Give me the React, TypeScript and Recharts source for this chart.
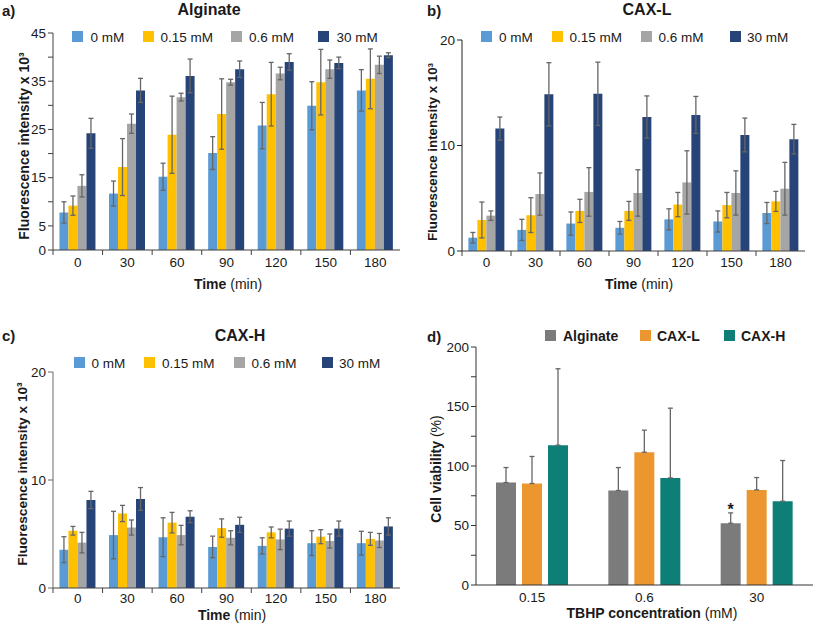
import React from 'react';
import { BarChart, Bar, XAxis, YAxis, ErrorBar, LabelList } from 'recharts';

const FONT = '"Liberation Sans", Arial, Helvetica, sans-serif';
const AXIS = '#404040';
const ERR = '#666666';
const TXT = '#1a1a1a';

// ---- shared categories ----
const timeLabels = ['0', '30', '60', '90', '120', '150', '180'];
const concLabels = ['0 mM', '0.15 mM', '0.6 mM', '30 mM'];
const concColors = ['#5B9BD5', '#FFC000', '#A5A5A5', '#264478'];

// ---- panel a: Alginate ----
const alg0 = [7.8, 11.7, 15.2, 20.1, 25.8, 29.9, 33.1];
const alg0Err = [2.2, 2.6, 2.8, 3.4, 4.8, 5.0, 4.3];
const alg015 = [9.2, 17.2, 23.9, 28.2, 32.3, 34.8, 35.5];
const alg015Err = [2.0, 5.9, 8.0, 7.3, 6.6, 6.8, 6.2];
const alg06 = [13.3, 26.2, 31.7, 34.8, 36.6, 37.5, 38.4];
const alg06Err = [2.3, 2.0, 0.8, 0.6, 1.3, 1.9, 1.8];
const alg30 = [24.2, 33.1, 36.1, 37.5, 39.0, 38.8, 40.4];
const alg30Err = [3.1, 2.5, 3.5, 1.7, 1.7, 1.2, 0.5];
const algTicks = [0, 5, 10, 15, 20, 25, 30, 35, 40, 45];
const algTickLabels = [0, 5, 15, 25, 35, 45];

// ---- panel b: CAX-L ----
const caxL0 = [1.26, 2.0, 2.6, 2.2, 3.0, 2.8, 3.6];
const caxL0Err = [0.5, 1.0, 1.1, 0.6, 1.0, 1.0, 1.0];
const caxL015 = [2.94, 3.4, 3.8, 3.8, 4.4, 4.35, 4.7];
const caxL015Err = [1.7, 1.65, 1.1, 0.9, 1.15, 1.2, 0.95];
const caxL06 = [3.35, 5.4, 5.6, 5.5, 6.5, 5.5, 5.9];
const caxL06Err = [0.45, 2.0, 2.3, 2.2, 3.0, 2.1, 2.5];
const caxL30 = [11.6, 14.85, 14.9, 12.7, 12.9, 11.0, 10.6];
const caxL30Err = [1.1, 3.0, 3.0, 2.0, 1.75, 1.6, 1.4];

// ---- panel c: CAX-H ----
const caxH0 = [3.55, 4.9, 4.7, 3.8, 3.9, 4.15, 4.15];
const caxH0Err = [1.2, 2.2, 1.8, 1.0, 0.75, 1.15, 1.1];
const caxH015 = [5.3, 6.9, 6.05, 5.55, 5.15, 4.75, 4.55];
const caxH015Err = [0.4, 0.75, 0.95, 0.85, 0.5, 0.65, 0.6];
const caxH06 = [4.2, 5.6, 4.9, 4.65, 4.5, 4.35, 4.4];
const caxH06Err = [0.95, 0.7, 0.9, 0.65, 0.95, 0.65, 0.65];
const caxH30 = [8.15, 8.25, 6.6, 5.85, 5.5, 5.5, 5.7];
const caxH30Err = [0.8, 1.05, 0.55, 0.7, 0.7, 0.7, 0.8];
const caxTicks = [0, 10, 20];

// ---- panel d: cell viability ----
const tbhpLabels = ['0.15', '0.6', '30'];
const viabSeries = ['Alginate', 'CAX-L', 'CAX-H'];
const viabColors = ['#7B7B7B', '#EC9630', '#0E7F76'];
const viabAlginate = [86.1, 79.4, 51.9];
const viabAlginateErr = [12.6, 19.3, 8.7];
const viabCaxL = [85.3, 111.6, 79.9];
const viabCaxLErr = [22.7, 18.5, 10.4];
const viabCaxH = [117.5, 90.0, 70.4];
const viabCaxHErr = [64.2, 58.6, 34.2];
const viabMarks = ['', '', '*'];
const viabTicks = [0, 25, 50, 75, 100, 125, 150, 175, 200];
const viabTickLabels = [0, 50, 100, 150, 200];

function buildTimeData(vals: number[][], errs: number[][]) {
  return timeLabels.map((t, i) => ({
    time: t,
    v0: vals[0][i], e0: errs[0][i],
    v1: vals[1][i], e1: errs[1][i],
    v2: vals[2][i], e2: errs[2][i],
    v3: vals[3][i], e3: errs[3][i],
  }));
}

const dataA = buildTimeData([alg0, alg015, alg06, alg30], [alg0Err, alg015Err, alg06Err, alg30Err]);
const dataB = buildTimeData([caxL0, caxL015, caxL06, caxL30], [caxL0Err, caxL015Err, caxL06Err, caxL30Err]);
const dataC = buildTimeData([caxH0, caxH015, caxH06, caxH30], [caxH0Err, caxH015Err, caxH06Err, caxH30Err]);

const dataD = tbhpLabels.map((c, i) => ({
  conc: c,
  alg: viabAlginate[i], algErr: [0, viabAlginateErr[i]],
  caxL: viabCaxL[i], caxLErr: [0, viabCaxLErr[i]],
  caxH: viabCaxH[i], caxHErr: [0, viabCaxHErr[i]],
  mark: viabMarks[i],
}));

const makeYTick = (labels: number[]) => (props: any) => {
  const { x, y, payload } = props;
  if (!labels.includes(payload.value)) return <g />;
  return (
    <text x={x} y={y} dy="0.355em" textAnchor="end" fontSize={13.5} fill={TXT} fontFamily={FONT}>
      {payload.value}
    </text>
  );
};

type TimePanelProps = {
  left: number; top: number; w: number; h: number;
  pl: number; pr: number; pt: number; pb: number;
  ymax: number; yticks: number[]; ylabels: number[]; data: any[]; labelDy: number; yAxisColor: string;
};

function TimePanel(p: TimePanelProps) {
  const band = (p.pr - p.pl) / timeLabels.length;
  const renderXTick = (props: any) => {
    const { x, y, payload } = props;
    return (
      <g>
        <line x1={x - band / 2} x2={x - band / 2} y1={y} y2={y + 5} stroke={AXIS} />
        <text x={x} y={y + p.labelDy} textAnchor="middle" fontSize={13.5} fill={TXT} fontFamily={FONT}>
          {payload.value}
        </text>
      </g>
    );
  };
  return (
    <div style={{ position: 'absolute', left: p.left, top: p.top }}>
      <BarChart
        width={p.w}
        height={p.h}
        data={p.data}
        margin={{ top: p.pt, right: p.w - p.pr, bottom: p.h - p.pb - 30, left: 0 }}
        barCategoryGap="13%"
        barGap={0}
      >
        <XAxis
          dataKey="time"
          height={30}
          tickLine={false}
          tickSize={0}
          tickMargin={0}
          axisLine={{ stroke: AXIS }}
          tick={renderXTick}
          interval={0}
        />
        <YAxis
          width={p.pl}
          domain={[0, p.ymax]}
          ticks={p.yticks}
          interval={0}
          tickSize={5}
          tickMargin={2}
          axisLine={{ stroke: p.yAxisColor }}
          tickLine={{ stroke: p.yAxisColor }}
          tick={makeYTick(p.ylabels)}
        />
        {[0, 1, 2, 3].map((k) => (
          <Bar key={k} dataKey={`v${k}`} name={concLabels[k]} fill={concColors[k]} isAnimationActive={false}>
            <ErrorBar dataKey={`e${k}`} direction="y" width={2.5} stroke={ERR} strokeWidth={1.3} />
          </Bar>
        ))}
      </BarChart>
    </div>
  );
}

function ViabilityPanel() {
  const renderXTick = (props: any) => {
    const { x, y, payload } = props;
    return (
      <text x={x} y={y + 16.5} textAnchor="middle" fontSize={13.5} fill={TXT} fontFamily={FONT}>
        {payload.value}
      </text>
    );
  };
  const renderMark = (props: any) => {
    const { x, y, width, value } = props;
    if (!value) return null;
    return (
      <text x={x + width / 2} y={y - 8} textAnchor="middle" fontSize={16} fontWeight="bold" fill={TXT} fontFamily={FONT}>
        {value}
      </text>
    );
  };
  return (
    <div style={{ position: 'absolute', left: 405, top: 300 }}>
      <BarChart
        width={412}
        height={327}
        data={dataD}
        margin={{ top: 47, right: 4, bottom: 12, left: 0 }}
        barSize={20}
        barGap={6}
      >
        <XAxis
          dataKey="conc"
          height={30}
          tickLine={false}
          tickSize={0}
          tickMargin={0}
          axisLine={{ stroke: '#333' }}
          tick={renderXTick}
          interval={0}
        />
        <YAxis
          width={71}
          domain={[0, 200]}
          ticks={viabTicks}
          interval={0}
          tickSize={5}
          tickMargin={2}
          axisLine={{ stroke: '#333' }}
          tickLine={{ stroke: '#333' }}
          tick={makeYTick(viabTickLabels)}
        />
        <Bar dataKey="alg" name={viabSeries[0]} fill={viabColors[0]} isAnimationActive={false}>
          <ErrorBar dataKey="algErr" direction="y" width={2.5} stroke={ERR} strokeWidth={1.3} />
          <LabelList dataKey="mark" content={renderMark} />
        </Bar>
        <Bar dataKey="caxL" name={viabSeries[1]} fill={viabColors[1]} isAnimationActive={false}>
          <ErrorBar dataKey="caxLErr" direction="y" width={2.5} stroke={ERR} strokeWidth={1.3} />
        </Bar>
        <Bar dataKey="caxH" name={viabSeries[2]} fill={viabColors[2]} isAnimationActive={false}>
          <ErrorBar dataKey="caxHErr" direction="y" width={2.5} stroke={ERR} strokeWidth={1.3} />
        </Bar>
      </BarChart>
    </div>
  );
}

function LegendRow({ squares, texts, labels, colors, y, bold }: { squares: number[]; texts: number[]; labels: string[]; colors: string[]; y: number; bold?: boolean }) {
  return (
    <g>
      {labels.map((l, i) => (
        <g key={l}>
          <rect x={squares[i]} y={y} width={11} height={11} fill={colors[i]} />
          <text x={texts[i]} y={y + 10.5} fontSize={bold ? 14 : 13.5} fontWeight={bold ? 'bold' : 'normal'} fill={TXT} fontFamily={FONT}>
            {l}
          </text>
        </g>
      ))}
    </g>
  );
}

function YTitle({ x, y, size, children }: { x: number; y: number; size: number; children: React.ReactNode }) {
  return (
    <text x={x} y={y} transform={`rotate(-90 ${x} ${y})`} textAnchor="middle" fontSize={size} fill={TXT} fontFamily={FONT}>
      {children}
    </text>
  );
}

function Overlay() {
  const bold = { fontWeight: 'bold' as const };
  return (
    <svg width={817} height={627} style={{ position: 'absolute', left: 0, top: 0, pointerEvents: 'none' }}>
      {/* panel a */}
      <text x={2} y={16} fontSize={15} {...bold} fill={TXT} fontFamily={FONT}>a)</text>
      <text x={209} y={15} fontSize={16} {...bold} textAnchor="middle" fill={TXT} fontFamily={FONT}>Alginate</text>
      <LegendRow squares={[72, 143, 231, 318]} texts={[90.5, 160.5, 249, 336.5]} labels={concLabels} colors={concColors} y={31} />
      <YTitle x={29} y={146} size={14}>
        <tspan fontWeight="bold">Fluorescence intensity x 10³</tspan>
      </YTitle>
      <text x={228} y={289} fontSize={14} textAnchor="middle" fill={TXT} fontFamily={FONT}>
        <tspan fontWeight="bold">Time</tspan> (min)
      </text>

      {/* panel b */}
      <text x={427} y={16} fontSize={15} {...bold} fill={TXT} fontFamily={FONT}>b)</text>
      <text x={647} y={15} fontSize={16} {...bold} textAnchor="middle" fill={TXT} fontFamily={FONT}>CAX-L</text>
      <LegendRow squares={[481, 552, 641, 730]} texts={[499, 569.5, 658.5, 747]} labels={concLabels} colors={concColors} y={31} />
      <YTitle x={437} y={152} size={13.3}>
        <tspan fontWeight="bold">Fluorescence intensity x 10³</tspan>
      </YTitle>
      <text x={639} y={289} fontSize={14} textAnchor="middle" fill={TXT} fontFamily={FONT}>
        <tspan fontWeight="bold">Time</tspan> (min)
      </text>

      {/* panel c */}
      <text x={2} y={341} fontSize={15} {...bold} fill={TXT} fontFamily={FONT}>c)</text>
      <text x={240} y={341} fontSize={16} {...bold} textAnchor="middle" fill={TXT} fontFamily={FONT}>CAX-H</text>
      <LegendRow squares={[74, 144, 234, 322]} texts={[91.5, 162, 251.5, 339]} labels={concLabels} colors={concColors} y={357} />
      <YTitle x={26.5} y={474} size={13.7}>
        <tspan fontWeight="bold">Fluorescence intensity x 10³</tspan>
      </YTitle>
      <text x={232} y={620} fontSize={14} textAnchor="middle" fill={TXT} fontFamily={FONT}>
        <tspan fontWeight="bold">Time</tspan> (min)
      </text>

      {/* panel d */}
      <text x={427} y={342} fontSize={15} {...bold} fill={TXT} fontFamily={FONT}>d)</text>
      <LegendRow squares={[545, 640, 724]} texts={[563, 657, 741]} labels={viabSeries} colors={viabColors} y={330} bold />
      <YTitle x={441} y={469} size={14}>
        <tspan fontWeight="bold">Cell viability</tspan> (%)
      </YTitle>
      <text x={652} y={618} fontSize={14} textAnchor="middle" fill={TXT} fontFamily={FONT}>
        <tspan fontWeight="bold">TBHP concentration</tspan> (mM)
      </text>
    </svg>
  );
}

export default function App() {
  return (
    <div style={{ position: 'absolute', left: 0, top: 0, width: 817, height: 627, background: '#fff', fontFamily: FONT }}>
      <TimePanel left={0} top={0} w={410} h={300} pl={53} pr={400} pt={33} pb={250} ymax={45} yticks={algTicks} ylabels={algTickLabels} data={dataA} labelDy={17} yAxisColor={AXIS} />
      <TimePanel left={405} top={0} w={412} h={300} pl={57} pr={400} pt={40} pb={251} ymax={20} yticks={caxTicks} ylabels={caxTicks} data={dataB} labelDy={16} yAxisColor={'#222'} />
      <TimePanel left={0} top={300} w={410} h={327} pl={53} pr={400} pt={72} pb={288} ymax={20} yticks={caxTicks} ylabels={caxTicks} data={dataC} labelDy={14.5} yAxisColor={'#6a6a6a'} />
      <ViabilityPanel />
      <Overlay />
    </div>
  );
}
